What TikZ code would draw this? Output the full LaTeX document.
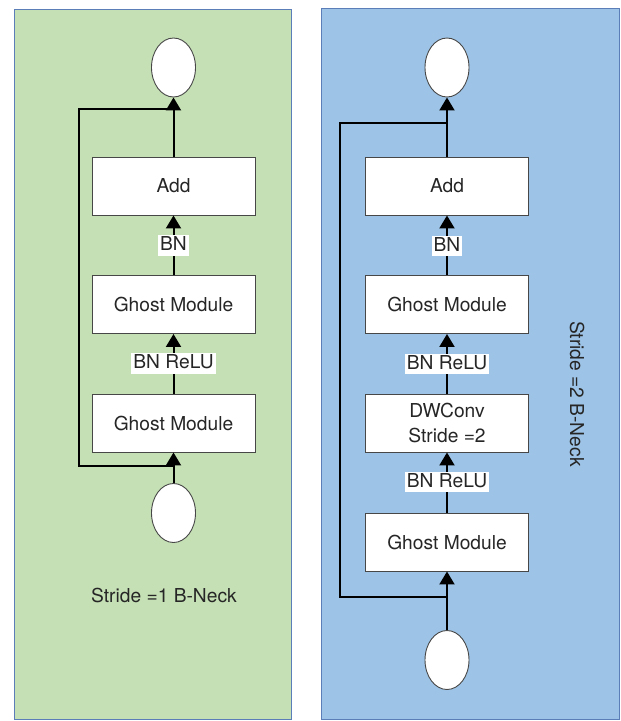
\documentclass[tikz,border=0pt]{standalone}
\usepackage{fontspec}
\setmainfont{TeX Gyre Heros}
\usetikzlibrary{arrows.meta,shapes.geometric}

\definecolor{panelgreen}{HTML}{C5E0B4}
\definecolor{panelblue}{HTML}{9DC3E6}
\definecolor{paneledge}{HTML}{5B7DB8}
\definecolor{ink}{HTML}{262626}

\tikzset{
  panel/.style={draw=paneledge, line width=1pt},
  block/.style={draw=ink!85, fill=white, line width=0.9pt, minimum width=163pt,
                minimum height=58pt, inner sep=0pt, text=ink, align=center,
                font=\fontsize{19.2}{25}\selectfont},
  io/.style={ellipse, draw=ink!85, fill=white, line width=0.9pt,
             minimum width=44pt, minimum height=59pt, inner sep=0pt},
  tag/.style={fill=white, inner xsep=2pt, inner ysep=2pt, text height=13.5pt,
              text depth=3pt, text=ink, font=\fontsize{19.2}{22}\selectfont},
  flow/.style={line width=2pt, black, -{Triangle[length=13pt,width=15pt]}},
  skip/.style={line width=2pt, black},
  caption/.style={text=ink, font=\fontsize{19.2}{22}\selectfont}
}

\begin{document}
\begin{tikzpicture}[x=1pt, y=-1pt]
\useasboundingbox (0,0) rectangle (621,721);

% ---------- stride 1 bottleneck ----------
\draw[panel, fill=panelgreen] (14,9) rectangle (291,719);

\node[io]    (lout)  at (173.5,67.5) {};
\node[block] (ladd)  at (173.5,186)  {Add};
\node[block] (lgm1)  at (173.5,304.5) {Ghost Module};
\node[block] (lgm2)  at (173.5,423)  {Ghost Module};
\node[io]    (lin)   at (173.5,513)  {};

\draw[flow] (lin.north) -- (lgm2.south);
\draw[flow] (lgm2.north) -- (lgm1.south);
\draw[flow] (lgm1.north) -- (ladd.south);
\draw[flow] (ladd.north) -- (lout.south);

\coordinate (lbj) at (173.5,466);
\coordinate (lbl) at (79,466);
\coordinate (ltl) at (79,109);
\coordinate (ltj) at (173.5,109);
\draw[skip] (lbj) -- (lbl) -- (ltl) -- (ltj);

\node[tag] (lbn)   at (173.5,245.5) {BN};
\node[tag] (lbnr)  at (173.5,363.5) {BN ReLU};

\node[caption] (lcap) at (164,595) {Stride =1 B-Neck};

% ---------- stride 2 bottleneck ----------
\draw[panel, fill=panelblue] (321,8) rectangle (619,719);

\node[io]    (rout)  at (447,67.5)  {};
\node[block] (radd)  at (447,186)   {Add};
\node[block] (rgm1)  at (447,304.5) {Ghost Module};
\node[block] (rdw)   at (447,423)   {DWConv\\Stride =2};
\node[block] (rgm2)  at (447,542)   {Ghost Module};
\node[io]    (rin)   at (447,660)   {};

\draw[flow] (rin.north) -- (rgm2.south);
\draw[flow] (rgm2.north) -- (rdw.south);
\draw[flow] (rdw.north) -- (rgm1.south);
\draw[flow] (rgm1.north) -- (radd.south);
\draw[flow] (radd.north) -- (rout.south);

\coordinate (rbj) at (447,597);
\coordinate (rbl) at (340,597);
\coordinate (rtl) at (340,123);
\coordinate (rtj) at (447,123);
\draw[skip] (rbj) -- (rbl) -- (rtl) -- (rtj);

\node[tag] (rbn)   at (447,246)   {BN};
\node[tag] (rbnr1) at (447,364)   {BN ReLU};
\node[tag] (rbnr2) at (447,482)   {BN ReLU};

\node[caption, rotate=-90] (rcap) at (577,394) {Stride =2 B-Neck};
\end{tikzpicture}
\end{document}
